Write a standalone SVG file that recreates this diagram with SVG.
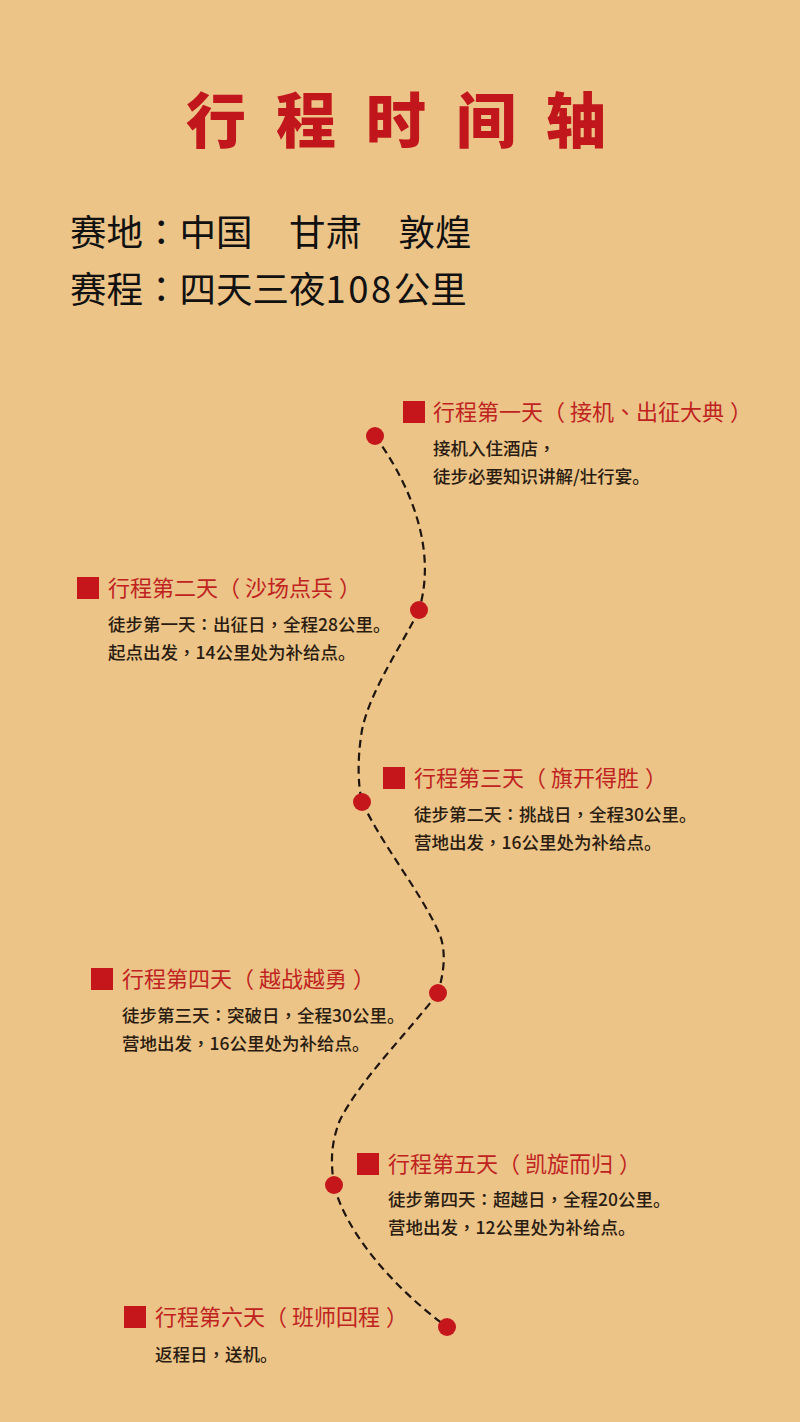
<svg xmlns="http://www.w3.org/2000/svg" width="800" height="1422" viewBox="0 0 800 1422">
<style>
.title{font-family:"Noto Sans CJK SC","Noto Sans",sans-serif;font-weight:900;font-size:60px;fill:#c1161b;letter-spacing:30px}
.sub{font-family:"Noto Sans CJK SC","Noto Sans",sans-serif;font-size:36.5px;fill:#111}
.head{font-family:"Noto Sans CJK SC","Noto Sans",sans-serif;font-size:22px;fill:#c0231f}
.desc{font-family:"Noto Sans CJK SC","Noto Sans",sans-serif;font-size:17.5px;fill:#2a1c10;font-weight:500}
.p{font-family:"Noto Sans CJK TC","Noto Sans CJK SC",sans-serif}
.num{letter-spacing:2.5px}
.sq{fill:#c5161c}
.dot{fill:#c5161c}
.route{fill:none;stroke:#1e1510;stroke-width:2.2;stroke-dasharray:8 5}
</style>
<rect width="800" height="1422" fill="#ecc488"/>
<text class="title" x="186" y="143">行程时间轴</text>
<text class="sub" x="70" y="246">赛地<tspan class="p">：</tspan>中国　甘肃　敦煌</text>
<text class="sub" x="70" y="303">赛程<tspan class="p">：</tspan>四天三夜<tspan class="num">108</tspan>公里</text>
<g id="connectors">
<path class="route" d="M375,436 C400,470 440,540 419,610"/>
<path class="route" d="M419,610 C405,640 370,690 362,730 C357,760 358,785 362,802"/>
<path class="route" d="M362,802 C385,850 420,890 440,935 C447,955 443,975 438,993"/>
<path class="route" d="M438,993 C410,1030 360,1080 340,1120 C330,1145 331,1165 334,1185"/>
<path class="route" d="M334,1185 C345,1230 390,1285 447,1327"/>
</g>
<g id="dots">
<circle class="dot" cx="375" cy="436" r="9"/>
<circle class="dot" cx="419" cy="610" r="9"/>
<circle class="dot" cx="362" cy="802" r="9"/>
<circle class="dot" cx="438" cy="993" r="9"/>
<circle class="dot" cx="334" cy="1185" r="9"/>
<circle class="dot" cx="447" cy="1327" r="9"/>
</g>
<g id="day1">
<rect class="sq" x="403" y="401" width="22" height="22"/>
<text class="head" x="433" y="420">行程第一天（<tspan dx="5">接机</tspan><tspan class="p">、</tspan>出征大典<tspan dx="6">）</tspan></text>
<text class="desc" x="433" y="455">接机入住酒店<tspan class="p">，</tspan></text>
<text class="desc" x="433" y="483">徒步必要知识讲解/壮行宴。</text>
</g>
<g id="day2">
<rect class="sq" x="77" y="577" width="22" height="22"/>
<text class="head" x="108" y="596">行程第二天（<tspan dx="5">沙场点兵</tspan><tspan dx="6">）</tspan></text>
<text class="desc" x="108" y="631">徒步第一天<tspan class="p">：</tspan>出征日<tspan class="p">，</tspan>全程28公里。</text>
<text class="desc" x="108" y="659">起点出发<tspan class="p">，</tspan>14公里处为补给点。</text>
</g>
<g id="day3">
<rect class="sq" x="383" y="767" width="22" height="22"/>
<text class="head" x="414" y="786">行程第三天（<tspan dx="5">旗开得胜</tspan><tspan dx="6">）</tspan></text>
<text class="desc" x="414" y="821">徒步第二天<tspan class="p">：</tspan>挑战日<tspan class="p">，</tspan>全程30公里。</text>
<text class="desc" x="414" y="849">营地出发<tspan class="p">，</tspan>16公里处为补给点。</text>
</g>
<g id="day4">
<rect class="sq" x="91" y="968" width="22" height="22"/>
<text class="head" x="122" y="987">行程第四天（<tspan dx="5">越战越勇</tspan><tspan dx="6">）</tspan></text>
<text class="desc" x="122" y="1022">徒步第三天<tspan class="p">：</tspan>突破日<tspan class="p">，</tspan>全程30公里。</text>
<text class="desc" x="122" y="1050">营地出发<tspan class="p">，</tspan>16公里处为补给点。</text>
</g>
<g id="day5">
<rect class="sq" x="357" y="1153" width="22" height="22"/>
<text class="head" x="388" y="1172">行程第五天（<tspan dx="5">凯旋而归</tspan><tspan dx="6">）</tspan></text>
<text class="desc" x="388" y="1206">徒步第四天<tspan class="p">：</tspan>超越日<tspan class="p">，</tspan>全程20公里。</text>
<text class="desc" x="388" y="1234">营地出发<tspan class="p">，</tspan>12公里处为补给点。</text>
</g>
<g id="day6">
<rect class="sq" x="124" y="1306" width="22" height="22"/>
<text class="head" x="155" y="1325">行程第六天（<tspan dx="5">班师回程</tspan><tspan dx="6">）</tspan></text>
<text class="desc" x="155" y="1361">返程日<tspan class="p">，</tspan>送机。</text>
</g>
</svg>
